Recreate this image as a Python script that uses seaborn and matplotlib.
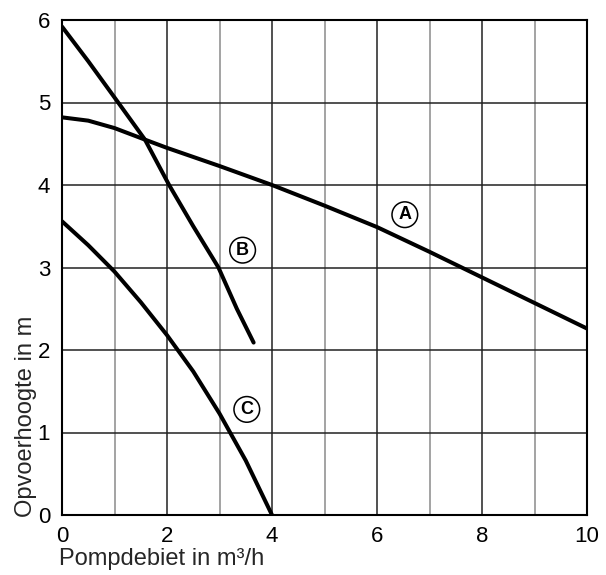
import matplotlib
matplotlib.use("Agg")
import matplotlib.pyplot as plt
import seaborn as sns
import pandas as pd

# Curve data
a_x = [0, 0.5, 1, 1.58, 2, 3, 4, 5, 6, 7, 8, 9, 10]
a_y = [4.82, 4.78, 4.69, 4.55, 4.45, 4.23, 4.0, 3.75, 3.49, 3.19, 2.88, 2.57, 2.26]
b_x = [0, 0.5, 1.07, 1.58, 2.04, 2.5, 2.98, 3.33, 3.65]
b_y = [5.92, 5.5, 5.0, 4.55, 4.0, 3.5, 3.0, 2.5, 2.09]
c_x = [0, 0.5, 1, 1.5, 2, 2.5, 3, 3.5, 4]
c_y = [3.56, 3.27, 2.95, 2.58, 2.18, 1.74, 1.23, 0.66, 0.0]

labels = ["A", "B", "C"]
label_x = [6.53, 3.44, 3.52]
label_y = [3.64, 3.21, 1.28]

x_ticks = [0, 2, 4, 6, 8, 10]
y_ticks = [0, 1, 2, 3, 4, 5, 6]

sns.set_theme(style="white")
plt.rcParams["font.family"] = ["Liberation Sans", "DejaVu Sans"]

fig = plt.figure(figsize=(6.06, 5.75), dpi=100)
ax = fig.add_axes([62 / 606, 60 / 575, 525 / 606, 495 / 575])

for xs, ys in [(a_x, a_y), (b_x, b_y), (c_x, c_y)]:
    df = pd.DataFrame({"x": xs, "y": ys})
    sns.lineplot(data=df, x="x", y="y", ax=ax, color="black", linewidth=2.9,
                 sort=False, estimator=None, zorder=3)
for line in ax.get_lines():
    line.set_solid_joinstyle("round")
    line.set_solid_capstyle("round")

# grid
for v in range(1, 10):
    ax.axvline(v, color="#222222" if v % 2 == 0 else "#8a8a8a",
               linewidth=1.1, zorder=1)
for h in range(1, 6):
    ax.axhline(h, color="#222222", linewidth=1.1, zorder=1)

for lab, lx, ly in zip(labels, label_x, label_y):
    ax.text(lx, ly, lab, ha="center", va="center", fontsize=13,
            fontweight="bold", color="black", zorder=4,
            bbox=dict(boxstyle="circle,pad=0.24", fc="white", ec="black", lw=1.1))

ax.set_xlim(0, 10)
ax.set_ylim(0, 6)
ax.set_xticks(x_ticks)
ax.set_yticks(y_ticks)
ax.tick_params(axis="both", length=0, labelsize=16, colors="black")
ax.tick_params(axis="x", pad=8)
ax.tick_params(axis="y", pad=8.5)
for s in ax.spines.values():
    s.set_color("black")
    s.set_linewidth(1.5)

ax.set_xlabel("Pompdebiet in m³/h", fontsize=17, loc="left", labelpad=0)
ax.set_ylabel("Opvoerhoogte in m", fontsize=17, loc="bottom", labelpad=0)
ax.xaxis.set_label_coords(-0.006, -0.067)
ax.yaxis.set_label_coords(-0.047, -0.005)

fig.savefig("out.png", dpi=100)
